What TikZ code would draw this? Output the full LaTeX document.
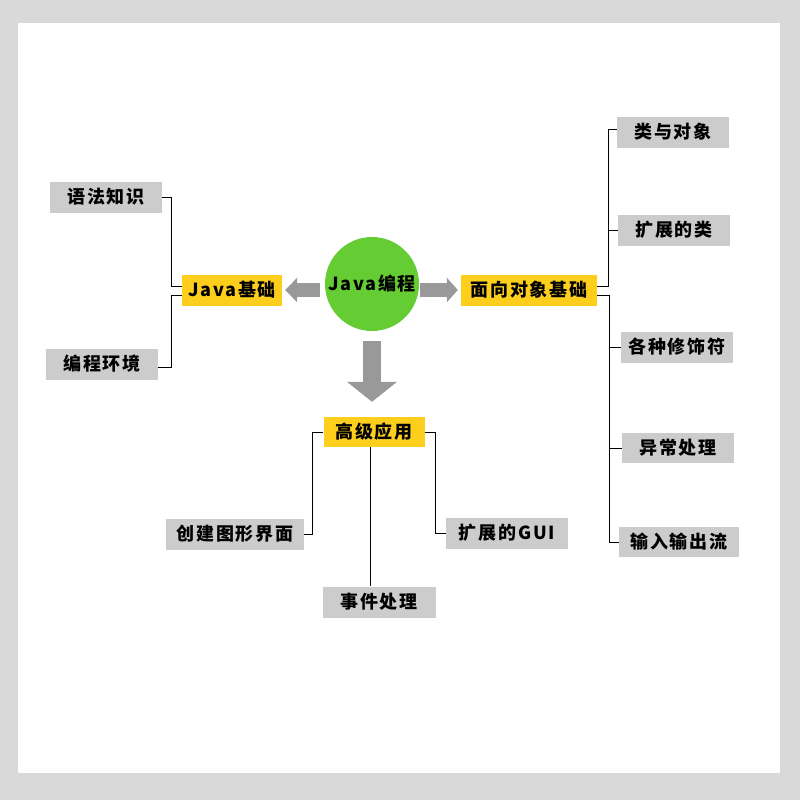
\documentclass[tikz,border=0pt]{standalone}
\usepackage{fontspec}
\setmainfont{Noto Sans CJK SC}
\newfontfamily\cjk[LetterSpace=10]{Noto Sans CJK SC}
\usetikzlibrary{arrows.meta}
\definecolor{frame}{RGB}{217,217,217}
\definecolor{topic}{RGB}{254,206,28}
\definecolor{leaf}{RGB}{204,204,204}
\definecolor{hub}{RGB}{102,204,51}
\definecolor{pointer}{RGB}{153,153,153}
\tikzset{
  box/.style={minimum height=31pt, inner sep=0pt, font=\cjk\fontsize{18}{18}\selectfont\bfseries},
  topicbox/.style={box, fill=topic},
  leafbox/.style={box, fill=leaf, minimum width=112pt},
  link/.style={draw=black, line width=1pt},
  bigarrow/.style={draw=pointer, shorten <=#1}
}

\begin{document}
\begin{tikzpicture}[x=1pt,y=-1pt]
        % page frame
        \fill[frame] (0,0) rectangle (800,800);
        \fill[white] (18,23) rectangle (780,773);
        % hub and topics
        \node[circle, fill=hub, minimum size=94pt, inner sep=0pt,
          font=\cjk\fontsize{18}{18}\selectfont\bfseries] (prog) at (372,284) {Java编程};
        \node[topicbox, minimum width=100pt] (basic) at (232,290) {Java基础};
        \node[topicbox, minimum width=136pt] (oop) at (529,290) {面向对象基础};
        \node[topicbox, minimum width=101pt, minimum height=30pt] (adv) at (374,432) {高级应用};
        % leaves
        \node[leafbox] (syntax) at (106,197) {语法知识};
        \node[leafbox] (env) at (102,364) {编程环境};
        \node[leafbox] (cls) at (673,132) {类与对象};
        \node[leafbox] (extcls) at (674,230) {扩展的类};
        \node[leafbox] (mods) at (677,347) {各种修饰符};
        \node[leafbox, minimum height=30pt] (exc) at (678,448) {异常处理};
        \node[leafbox, minimum width=120pt, minimum height=30pt] (io) at (679,542) {输入输出流};
        \node[leafbox, minimum width=138pt] (gui) at (235,534) {创建图形界面};
        \node[leafbox, minimum width=113pt] (event) at (379,602) {事件处理};
        \node[leafbox, minimum width=122pt] (extgui) at (507,533) {扩展的GUI};
        % block arrows
        \draw[bigarrow=5pt, line width=14pt, shorten >=3pt,
          -{Triangle[width=24pt,length=12pt]}] (prog.west |- basic.east) -- (basic.east);
        \draw[bigarrow=1pt, line width=14pt, shorten >=3pt,
          -{Triangle[width=24pt,length=11pt]}] (prog.east |- oop.west) -- (oop.west);
        \draw[bigarrow=10pt, line width=18pt, shorten >=15pt,
          -{Triangle[width=49pt,length=20pt]}] (prog.south) -- (prog.south |- adv.north);
        % tree lines
        \draw[link] ([yshift=4pt]basic.west) -- ++(-10,0) |- (syntax.east);
        \draw[link] ([yshift=-5pt]basic.west) -- ++(-10,0) |- ([yshift=-3pt]env.east);
        \draw[link] ([yshift=4pt]oop.east) -- ++(11,0) coordinate (up) |- ([yshift=3pt]cls.west);
        \draw[link] (up) |- (extcls.west);
        \draw[link] ([yshift=-5pt]oop.east) -- ++(12,0) coordinate (dn) |- (io.west);
        \draw[link] (dn) |- (mods.west);
        \draw[link] (dn) |- (exc.west);
        \draw[link] (adv.west) -- ++(-11,0) |- (gui.east);
        \draw[link] (adv.east) -- ++(11,0) |- (extgui.west);
        \draw[link] ([xshift=-4pt]adv.south) -- ([xshift=-4pt]adv.south |- event.north);
      \end{tikzpicture}
\end{document}
